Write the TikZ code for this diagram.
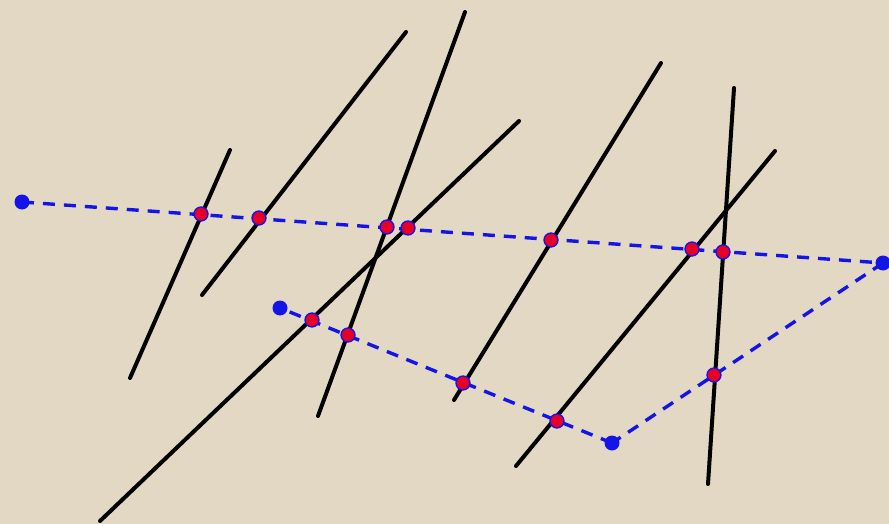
\documentclass[tikz,border=0pt]{standalone}
\definecolor{bg}{RGB}{226,216,196}
\definecolor{dashblue}{RGB}{20,20,230}
\definecolor{ptred}{RGB}{230,0,40}
\tikzset{
  blk/.style={line width=4pt, black, line cap=round},
  dsh/.style={line width=3.4pt, dashblue, dash pattern=on 12pt off 9pt},
  bluept/.style={circle, fill=dashblue, inner sep=0pt, minimum size=15pt},
  redpt/.style={circle, fill=ptred, draw=dashblue, line width=1.3pt, inner sep=0pt, minimum size=14pt}
}
\begin{document}
\begin{tikzpicture}[x=1pt,y=-1pt]
\fill[bg] (0,0) rectangle (889,524);
\useasboundingbox (0,0) rectangle (889,524);
% line endpoints
\coordinate (a1) at (230,150); \coordinate (a2) at (130,378);
\coordinate (b1) at (406,32);  \coordinate (b2) at (202,295);
\coordinate (c1) at (465,12);  \coordinate (c2) at (318,416);
\coordinate (d1) at (519,121); \coordinate (d2) at (100,521);
\coordinate (e1) at (661,63);  \coordinate (e2) at (454,400);
\coordinate (f1) at (734,88);  \coordinate (f2) at (708,484);
\coordinate (g1) at (775,151); \coordinate (g2) at (516,466);
\draw[blk] (a1) -- (a2);
\draw[blk] (b1) -- (b2);
\draw[blk] (c1) -- (c2);
\draw[blk] (d1) -- (d2);
\draw[blk] (e1) -- (e2);
\draw[blk] (f1) -- (f2);
\draw[blk] (g1) -- (g2);
% dashed polyline
\coordinate (P) at (22,202);
\coordinate (Q) at (883,263);
\coordinate (R) at (612,443);
\coordinate (S) at (280,308);
\draw[dsh] (P) -- (Q);
\draw[dsh] (Q) -- (R);
\draw[dsh] (R) -- (S);
% blue points
\node[bluept] (bp) at (P) {};
\node[bluept] (bq) at (Q) {};
\node[bluept] (br) at (R) {};
\node[bluept] (bs) at (S) {};
% red intersection points
\node[redpt] (r1) at (201,214) {};
\node[redpt] (r2) at (259,218) {};
\node[redpt] (r3) at (387,227) {};
\node[redpt] (r4) at (408,228) {};
\node[redpt] (r5) at (551,240) {};
\node[redpt] (r6) at (692,249) {};
\node[redpt] (r7) at (723,252) {};
\node[redpt] (r8) at (312,320) {};
\node[redpt] (r9) at (348,335) {};
\node[redpt] (r10) at (463,383) {};
\node[redpt] (r11) at (557,421) {};
\node[redpt] (r12) at (714,375) {};
\end{tikzpicture}
\end{document}
